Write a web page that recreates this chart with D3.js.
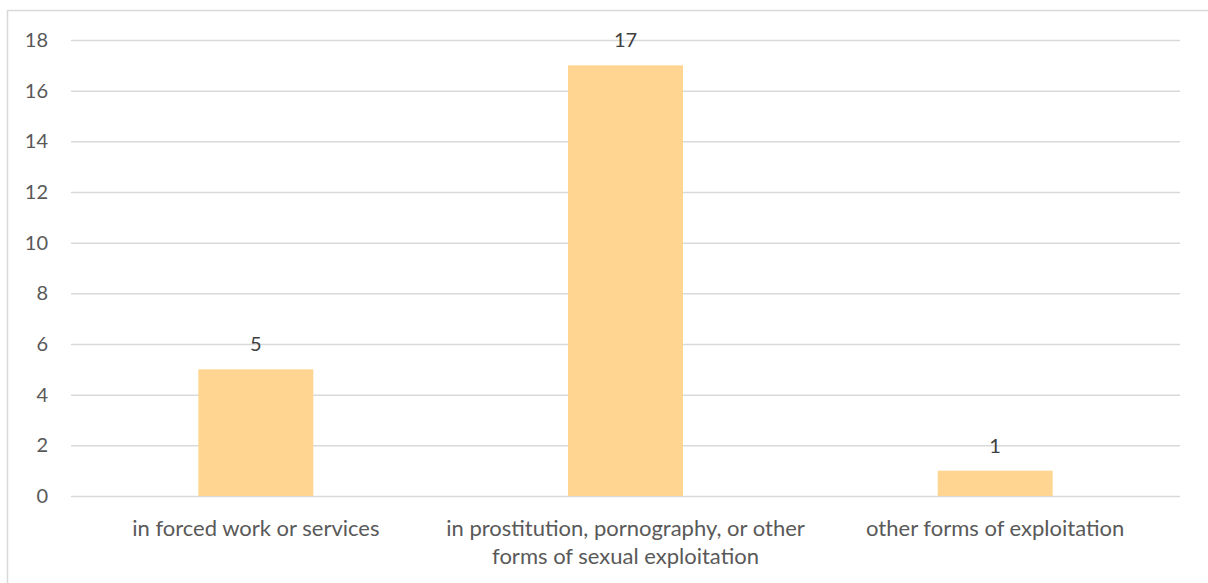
<!DOCTYPE html>
<html><head><meta charset="utf-8">
<script src="https://cdn.jsdelivr.net/npm/d3@7"></script>
<style>html,body{margin:0;padding:0;background:#fff;}svg{display:block;}</style>
</head><body>
<svg id="chart" width="1208" height="583"></svg>
<script>
const categories = [
  ["in forced work or services"],
  ["in prostitution, pornography, or other", "forms of sexual exploitation"],
  ["other forms of exploitation"]
];
const values = [5, 17, 1];
const yTicks = [0, 2, 4, 6, 8, 10, 12, 14, 16, 18];

(function () {
const svg = d3.select("#chart");
const font = "Lato, 'Noto Sans', sans-serif";
const mL = 71, mR = 1180, mT = 40, mB = 496;

svg.append("rect").attr("x", 7.5).attr("y", 10.5).attr("width", 1210).attr("height", 600)
  .attr("fill", "#fff").attr("stroke", "#d9d9d9").attr("stroke-width", 1.5);

const x = d3.scaleBand().domain(d3.range(categories.length)).range([mL, mR]).paddingInner(0.689).paddingOuter(0.3445);
const y = d3.scaleLinear().domain([0, 18]).range([mB, mT]);

const grid = svg.append("g").attr("transform", `translate(${mL},0)`)
  .call(d3.axisLeft(y).tickValues(yTicks).tickSize(-(mR - mL)).tickPadding(23).tickFormat(d3.format("d")));
grid.select(".domain").remove();
grid.selectAll(".tick line").attr("stroke", "#d9d9d9").attr("stroke-width", 1.5);
grid.selectAll(".tick text").attr("fill", "#595959").style("font-family", font).style("font-size", "20px");

svg.append("g").selectAll("rect").data(values).join("rect")
  .attr("x", (d, i) => x(i)).attr("width", x.bandwidth())
  .attr("y", d => y(d)).attr("height", d => y(0) - y(d))
  .attr("fill", "#ffd591");

svg.append("g").selectAll("text").data(values).join("text")
  .attr("x", (d, i) => x(i) + x.bandwidth() / 2).attr("y", d => y(d) - 26)
  .attr("text-anchor", "middle").attr("dominant-baseline", "central")
  .attr("fill", "#404040").style("font-family", font).style("font-size", "20px")
  .text(d => d);

const lab = svg.append("g").selectAll("text").data(categories).join("text")
  .attr("text-anchor", "middle").attr("fill", "#595959")
  .style("font-family", font).style("font-size", "22px")
  .attr("transform", (d, i) => `translate(${x(i) + x.bandwidth() / 2},0)`);
lab.selectAll("tspan").data(d => d).join("tspan")
  .attr("x", 0).attr("y", (d, j) => 527 + j * 28).attr("dominant-baseline", "central").text(d => d);
})();
</script>
</body></html>
